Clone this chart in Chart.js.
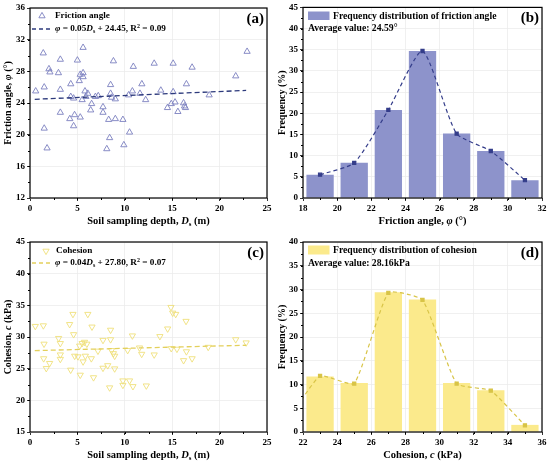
<!DOCTYPE html>
<html>
<head>
<meta charset="utf-8">
<script src="https://cdn.jsdelivr.net/npm/chart.js@4.4.1/dist/chart.umd.min.js"></script>
<style>
  body { margin: 0; background: #fff; width: 550px; height: 467px; position: relative; overflow: hidden; }
  canvas { position: absolute; }
</style>
</head>
<body>
<canvas id="panelA" width="275" height="233" style="left:0;top:0"></canvas>
<canvas id="panelB" width="275" height="233" style="left:275px;top:0"></canvas>
<canvas id="panelC" width="275" height="234" style="left:0;top:233px"></canvas>
<canvas id="panelD" width="275" height="234" style="left:275px;top:233px"></canvas>
<script>
// (a) friction angle vs sampling depth
const depthA = [0.6, 1.4, 1.5, 1.5, 1.8, 2.0, 2.1, 3.0, 3.2, 3.2, 3.2, 4.2, 4.3, 4.3, 4.6, 4.6, 4.7,
  5.0, 5.2, 5.3, 5.3, 5.5, 5.6, 5.6, 5.6, 5.8, 5.9, 6.1, 6.4, 6.5, 6.9, 7.2, 7.7, 7.7, 8.3, 8.1,
  8.4, 8.5, 8.5, 8.6, 8.8, 9.0, 9.0, 9.8, 9.9, 10.5, 10.4, 10.8, 10.9, 11.6, 11.8, 12.2, 13.1,
  13.8, 14.5, 14.9, 15.1, 15.1, 15.3, 15.6, 16.2, 16.3, 16.4, 16.5, 17.1, 18.9, 21.7, 22.9];
const frictionA = [25.5, 30.3, 26.0, 20.8, 18.3, 28.3, 27.9, 27.8, 29.5, 25.7, 22.8, 22.0, 26.4, 24.8, 24.6, 21.1, 22.5,
  29.4, 26.8, 27.6, 22.2, 24.4, 31.0, 27.8, 27.3, 25.5, 24.8, 25.2, 23.1, 23.9, 24.8, 24.9, 23.5, 22.8, 21.9, 18.2,
  19.6, 26.3, 25.2, 24.7, 29.3, 24.5, 22.0, 21.9, 18.7, 20.3, 25.0, 25.5, 28.6, 25.2, 26.4, 24.4, 29.0,
  25.6, 23.4, 23.9, 29.0, 25.4, 24.1, 22.9, 24.0, 23.6, 23.4, 26.4, 28.5, 25.0, 27.4, 30.5];
const trendDepthA = [0.5, 22.8];
const trendFrictionA = [24.47, 25.59];

// (b) frequency distribution of friction angle
const binsB = [19, 21, 23, 25, 27, 29, 31];
const freqB = [5.5, 8.3, 20.8, 34.7, 15.2, 11.1, 4.2];

// (c) cohesion vs sampling depth
const depthC = [0.56, 1.41, 1.48, 1.44, 1.72, 2.07, 3.02, 3.2, 3.2, 3.2, 4.18, 4.29, 4.53, 4.6, 4.71, 5.06,
  5.3, 5.24, 5.5, 5.75, 6.0, 5.6, 5.84, 6.1, 6.54, 6.47, 6.7, 7.17, 7.7, 7.7, 8.2, 8.4, 8.5, 8.5, 8.6,
  8.8, 8.93, 8.93, 9.8, 9.8, 10.5, 10.86, 10.8, 10.3, 12.27, 14.87, 15.05, 15.37, 16.46, 14.52, 13.7,
  11.78, 13.1, 14.9, 15.5, 16.5, 16.2, 17.1, 18.8, 21.7, 22.8, 11.55];
const cohesionC = [31.7, 31.8, 28.9, 26.6, 25.05, 25.85, 29.8, 29.0, 27.2, 26.5, 32.0, 24.8, 33.6, 30.4, 27.0, 26.9,
  24.0, 28.6, 29.0, 29.2, 28.9, 26.1, 27.0, 33.6, 31.6, 26.6, 23.6, 27.8, 29.5, 25.1, 25.5, 22.0, 31.1, 29.6, 27.9,
  27.4, 27.0, 25.0, 23.1, 22.4, 23.1, 22.2, 30.2, 27.9, 22.3, 34.7, 33.8, 33.6, 32.5, 31.3, 30.1,
  27.3, 27.2, 28.2, 28.1, 27.7, 26.3, 26.6, 28.4, 29.6, 29.1, 28.3];
const trendDepthC = [0.5, 22.8];
const trendCohesionC = [27.85, 28.7];

// (d) frequency distribution of cohesion
const binsD = [23, 25, 27, 29, 31, 33, 35];
const freqD = [11.7, 10.3, 29.4, 27.9, 10.3, 8.8, 1.5];
const curveBinsD = [21, 23, 25, 27, 29, 31, 33, 35];
const curveFreqD = [1.8, 11.8, 10.2, 29.3, 27.8, 10.2, 8.7, 1.4];

const FONT = '"Liberation Serif", "Times New Roman", serif';
const BLUE_MARK = '#7c80c0', BLUE_BAR = '#8d93cb', BLUE_LINE = '#343d8a';
const YEL_MARK = '#efe07a', YEL_BAR = '#fbea8c', YEL_LINE = '#d8c447';

Chart.defaults.font.family = FONT;
Chart.defaults.font.weight = 'bold';
Chart.defaults.font.size = 9;
Chart.defaults.color = '#000';

const zip = (xs, ys) => xs.map((x, i) => ({ x, y: ys[i] }));
const font = (size, italic) => (italic ? 'italic ' : '') + 'bold ' + size + 'px ' + FONT;

// draws a run of text pieces: [text, style] where style is 'i', 'sub' or 'sup'
function drawRich(ctx, parts, x, y, size, align) {
  const pieces = parts.map(([t, st = '']) => {
    const small = st === 'sub' || st === 'sup';
    const f = font(small ? size * 0.65 : size, st === 'i');
    ctx.font = f;
    const dy = st === 'sub' ? size * 0.28 : st === 'sup' ? -size * 0.32 : 0;
    return { t, f, dy, w: ctx.measureText(t).width };
  });
  const total = pieces.reduce((s, p) => s + p.w, 0);
  let cx = align === 'center' ? x - total / 2 : align === 'right' ? x - total : x;
  ctx.textAlign = 'left';
  ctx.textBaseline = 'middle';
  pieces.forEach(p => { ctx.font = p.f; ctx.fillText(p.t, cx, y + p.dy); cx += p.w; });
}

function triangle(ctx, x, y, r, down) {
  const s = down ? -1 : 1;
  ctx.beginPath();
  ctx.moveTo(x, y - s * r);
  ctx.lineTo(x + r * 0.866, y + s * r * 0.5);
  ctx.lineTo(x - r * 0.866, y + s * r * 0.5);
  ctx.closePath();
  ctx.stroke();
}

function dashSample(ctx, x1, x2, y, color) {
  ctx.save();
  ctx.strokeStyle = color;
  ctx.lineWidth = 1.3;
  ctx.setLineDash([4, 3]);
  ctx.beginPath();
  ctx.moveTo(x1, y);
  ctx.lineTo(x2, y);
  ctx.stroke();
  ctx.restore();
}

// frame, minor ticks, axis titles, legend and panel tag
function decoPlugin(deco) {
  return {
    id: 'deco',
    afterDraw(chart) {
      const { ctx, chartArea: a } = chart;
      const xs = chart.scales.x, ys = chart.scales.y;
      ctx.save();
      ctx.strokeStyle = '#000';
      ctx.lineWidth = 1;
      ctx.beginPath();
      for (let v = xs.min + deco.xMinor; v < xs.max; v += deco.xMinor) {
        const px = Math.round(xs.getPixelForValue(v)) + 0.5;
        ctx.moveTo(px, a.bottom);
        ctx.lineTo(px, a.bottom + 2);
      }
      for (let v = ys.min + deco.yMinor; v < ys.max; v += deco.yMinor) {
        const py = Math.round(ys.getPixelForValue(v)) + 0.5;
        ctx.moveTo(a.left, py);
        ctx.lineTo(a.left - 2, py);
      }
      ctx.stroke();
      ctx.lineWidth = 1.2;
      ctx.strokeRect(a.left, a.top, a.right - a.left, a.bottom - a.top);

      ctx.fillStyle = '#000';
      drawRich(ctx, deco.xTitle, (a.left + a.right) / 2, a.bottom + 23, 10.5, 'center');
      ctx.save();
      ctx.translate(deco.yTitleX, (a.top + a.bottom) / 2);
      ctx.rotate(-Math.PI / 2);
      drawRich(ctx, deco.yTitle, 0, 0, 10, 'center');
      ctx.restore();

      drawRich(ctx, [[deco.tag]], a.right - 3, a.top + 11, 15, 'right');
      deco.legend(ctx, a);
      ctx.restore();
    }
  };
}

function axes(xMin, xMax, xStep, yMin, yMax, yStep, yWidth) {
  const grid = { color: '#ececec', lineWidth: 0.8, tickColor: '#000', tickLength: 3, offset: false };
  return {
    x: {
      type: 'linear', min: xMin, max: xMax, offset: false,
      grid, border: { display: false },
      ticks: { stepSize: xStep, padding: 2, maxRotation: 0 },
      afterFit: s => { s.height = 35; }
    },
    y: {
      type: 'linear', min: yMin, max: yMax,
      grid, border: { display: false },
      ticks: { stepSize: yStep, padding: 2 },
      afterFit: s => { s.width = yWidth; }
    }
  };
}

function baseOptions(scales, padTop) {
  return {
    responsive: false,
    animation: false,
    layout: { padding: { top: padTop, right: 8, left: 0, bottom: 0 } },
    plugins: { legend: { display: false }, tooltip: { enabled: false } },
    scales
  };
}

// (a)
new Chart(document.getElementById('panelA'), {
  type: 'scatter',
  data: {
    datasets: [
      { data: zip(trendDepthA, trendFrictionA), showLine: true, pointRadius: 0,
        borderColor: '#2d3a7c', borderWidth: 1.3, borderDash: [5, 3], order: 0 },
      { data: zip(depthA, frictionA), pointStyle: 'triangle', pointRadius: 3.6,
        borderColor: BLUE_MARK, borderWidth: 0.9, backgroundColor: 'rgba(0,0,0,0)', order: 1 }
    ]
  },
  options: baseOptions(axes(0, 25, 5, 12, 36, 4, 30), 8),
  plugins: [decoPlugin({
    xMinor: 2.5, yMinor: 2, yTitleX: 8, tag: '(a)',
    xTitle: [['Soil sampling depth, '], ['D', 'i'], ['s', 'sub'], [' (m)']],
    yTitle: [['Friction angle, '], ['φ', 'i'], [' (°)']],
    legend(ctx) {
      ctx.strokeStyle = BLUE_MARK;
      ctx.lineWidth = 0.9;
      triangle(ctx, 42, 16, 3.6, false);
      ctx.fillStyle = '#000';
      drawRich(ctx, [['Friction angle']], 55, 16, 9.2, 'left');
      dashSample(ctx, 32, 52, 29, '#2d3a7c');
      drawRich(ctx, [['φ', 'i'], [' = 0.05'], ['D', 'i'], ['s', 'sub'], [' + 24.45, R'], ['2', 'sup'], [' = 0.09']], 55, 29, 9.2, 'left');
    }
  })]
});

// (b)
new Chart(document.getElementById('panelB'), {
  type: 'bar',
  data: {
    datasets: [
      { type: 'line', data: zip(binsB, freqB), borderColor: BLUE_LINE, borderWidth: 1.2, borderDash: [4, 3],
        tension: 0.2, pointStyle: 'rect', pointRadius: 2.2, pointBackgroundColor: BLUE_LINE,
        pointBorderColor: BLUE_LINE, order: 0 },
      { data: zip(binsB, freqB), backgroundColor: BLUE_BAR, categoryPercentage: 1, barPercentage: 0.8, order: 1 }
    ]
  },
  options: baseOptions(axes(18, 32, 2, 0, 45, 5, 28), 7),
  plugins: [decoPlugin({
    xMinor: 1, yMinor: 2.5, yTitleX: 7, tag: '(b)',
    xTitle: [['Friction angle, '], ['φ', 'i'], [' (°)']],
    yTitle: [['Frequency (%)']],
    legend(ctx) {
      ctx.fillStyle = BLUE_BAR;
      ctx.fillRect(33, 11.5, 21.5, 8.5);
      ctx.fillStyle = '#000';
      drawRich(ctx, [['Frequency distribution of friction angle']], 58, 16, 9.7, 'left');
      drawRich(ctx, [['Average value: 24.59°']], 33, 28.5, 9.7, 'left');
    }
  })]
});

// (c)
new Chart(document.getElementById('panelC'), {
  type: 'scatter',
  data: {
    datasets: [
      { data: zip(trendDepthC, trendCohesionC), showLine: true, pointRadius: 0,
        borderColor: '#e3d05c', borderWidth: 1.3, borderDash: [5, 3], order: 0 },
      { data: zip(depthC, cohesionC), pointStyle: 'triangle', rotation: 180, pointRadius: 3.6,
        borderColor: YEL_MARK, borderWidth: 0.9, backgroundColor: 'rgba(0,0,0,0)', order: 1 }
    ]
  },
  options: baseOptions(axes(0, 25, 5, 15, 45, 5, 30), 9),
  plugins: [decoPlugin({
    xMinor: 2.5, yMinor: 2.5, yTitleX: 8, tag: '(c)',
    xTitle: [['Soil sampling depth, '], ['D', 'i'], ['s', 'sub'], [' (m)']],
    yTitle: [['Cohesion, '], ['c', 'i'], [' (kPa)']],
    legend(ctx) {
      ctx.strokeStyle = YEL_MARK;
      ctx.lineWidth = 0.9;
      triangle(ctx, 46, 18, 3.6, true);
      ctx.fillStyle = '#000';
      drawRich(ctx, [['Cohesion']], 56, 18, 9.2, 'left');
      dashSample(ctx, 32, 52, 30, '#e3d05c');
      drawRich(ctx, [['φ', 'i'], [' = 0.04'], ['D', 'i'], ['s', 'sub'], [' + 27.80, R'], ['2', 'sup'], [' = 0.07']], 55, 30, 9.2, 'left');
    }
  })]
});

// (d)
new Chart(document.getElementById('panelD'), {
  type: 'bar',
  data: {
    datasets: [
      { type: 'line', data: zip(curveBinsD, curveFreqD), borderColor: YEL_LINE, borderWidth: 1.2, borderDash: [4, 3],
        tension: 0.15, pointStyle: 'rect', pointRadius: 2.2, pointBackgroundColor: YEL_LINE,
        pointBorderColor: YEL_LINE, order: 0 },
      { data: zip(binsD, freqD), backgroundColor: YEL_BAR, categoryPercentage: 1, barPercentage: 0.8, order: 1 }
    ]
  },
  options: baseOptions(axes(22, 36, 2, 0, 40, 5, 28), 9),
  plugins: [decoPlugin({
    xMinor: 1, yMinor: 2.5, yTitleX: 7, tag: '(d)',
    xTitle: [['Cohesion, '], ['c', 'i'], [' (kPa)']],
    yTitle: [['Frequency (%)']],
    legend(ctx) {
      ctx.fillStyle = YEL_BAR;
      ctx.fillRect(33, 12.5, 21.5, 9);
      ctx.fillStyle = '#000';
      drawRich(ctx, [['Frequency distribution of cohesion']], 58, 17, 9.7, 'left');
      drawRich(ctx, [['Average value: 28.16kPa']], 33, 30, 9.7, 'left');
    }
  })]
});
</script>
</body>
</html>
